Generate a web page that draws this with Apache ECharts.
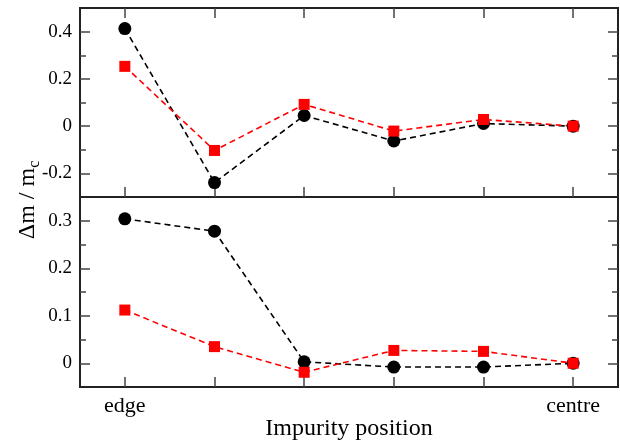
<!DOCTYPE html>
<html>
<head>
<meta charset="utf-8">
<script src="https://cdn.jsdelivr.net/npm/echarts@6/dist/echarts.min.js"></script>
<style>html,body{margin:0;padding:0;background:#fff;}#c{width:620px;height:441px;}</style>
</head>
<body>
<div id="c"></div>
<script>
var xLabels = ['edge', '', '', '', '', 'centre'];
var topBlack = [0.413, -0.239, 0.045, -0.063, 0.011, 0.0];
var topRed = [0.253, -0.103, 0.092, -0.021, 0.028, 0.0];
var botBlack = [0.304, 0.278, 0.003, -0.008, -0.008, 0.0];
var botRed = [0.112, 0.035, -0.019, 0.027, 0.025, 0.0];
var topMajor = [-0.2, 0, 0.2, 0.4];
var topMinor = [-0.1, 0.1, 0.3];
var botMajor = [0, 0.1, 0.2, 0.3];
var botMinor = [0.05, 0.15, 0.25];
var topRange = [-0.3, 0.5];
var botRange = [-0.05, 0.35];

var FONT = '"Liberation Serif", "DejaVu Serif", serif';
var TICK = '#444';

function xAx(grid, pos, labels) {
  return {
    type: 'category', gridIndex: grid, position: pos, data: xLabels,
    boundaryGap: true,
    axisLine: { show: false, onZero: false },
    axisTick: { show: true, inside: true, length: 10, alignWithLabel: true, interval: 0, lineStyle: { color: TICK, width: 1.5 } },
    axisLabel: { show: labels, interval: 0, margin: 8, fontSize: 22, fontFamily: FONT, color: '#000' },
    splitLine: { show: false }
  };
}
function yAx(grid, pos, range, vals, len, labels) {
  return {
    type: 'value', gridIndex: grid, position: pos, min: range[0], max: range[1],
    axisLine: { show: false, onZero: false },
    splitLine: { show: false },
    axisTick: { show: true, inside: true, length: len, customValues: vals, lineStyle: { color: TICK, width: 1.5 } },
    axisLabel: { show: labels, customValues: vals, margin: 8, fontSize: 19, fontFamily: FONT, color: '#000' }
  };
}
function ser(x, y, data, color, sym, size) {
  return {
    type: 'line', xAxisIndex: x, yAxisIndex: y, data: data,
    symbol: sym, symbolSize: size, showSymbol: true,
    itemStyle: { color: color },
    lineStyle: { color: color, width: 1.6, type: [6, 4] },
    emphasis: { disabled: true }, silent: true
  };
}

var chart = echarts.init(document.getElementById('c'), null, { renderer: 'canvas' });
chart.setOption({
  animation: false,
  backgroundColor: '#fff',
  grid: [
    { left: 80, right: 2, top: 8, height: 189, show: true, borderColor: '#222', borderWidth: 2, backgroundColor: 'transparent' },
    { left: 80, right: 2, top: 197, height: 190, show: true, borderColor: '#222', borderWidth: 2, backgroundColor: 'transparent' }
  ],
  xAxis: [
    xAx(0, 'bottom', false),
    xAx(0, 'top', false),
    xAx(1, 'bottom', true)
  ],
  yAxis: [
    yAx(0, 'left', topRange, topMajor, 10, true),
    yAx(0, 'left', topRange, topMinor, 6, false),
    yAx(0, 'right', topRange, topMajor, 10, false),
    yAx(0, 'right', topRange, topMinor, 6, false),
    yAx(1, 'left', botRange, botMajor, 10, true),
    yAx(1, 'left', botRange, botMinor, 6, false),
    yAx(1, 'right', botRange, botMajor, 10, false),
    yAx(1, 'right', botRange, botMinor, 6, false)
  ],
  series: [
    ser(0, 0, topBlack, '#000', 'circle', 13),
    ser(0, 0, topRed, '#ff0000', 'rect', 11),
    ser(2, 4, botBlack, '#000', 'circle', 13),
    ser(2, 4, botRed, '#ff0000', 'rect', 11)
  ],
  graphic: [
    {
      type: 'text', x: 349, y: 429,
      style: { text: 'Impurity position', fontSize: 24, fontFamily: FONT, fill: '#000', textAlign: 'center', textVerticalAlign: 'middle' }
    },
    {
      type: 'text', x: 28, y: 200, rotation: Math.PI / 2,
      style: {
        text: '{a|Δm / m}{b|c}',
        textAlign: 'center', textVerticalAlign: 'middle',
        rich: {
          a: { fontSize: 24, fontFamily: FONT, fill: '#000', lineHeight: 30 },
          b: { fontSize: 16, fontFamily: FONT, fill: '#000', lineHeight: 12, verticalAlign: 'bottom' }
        }
      }
    }
  ]
});
</script>
</body>
</html>
